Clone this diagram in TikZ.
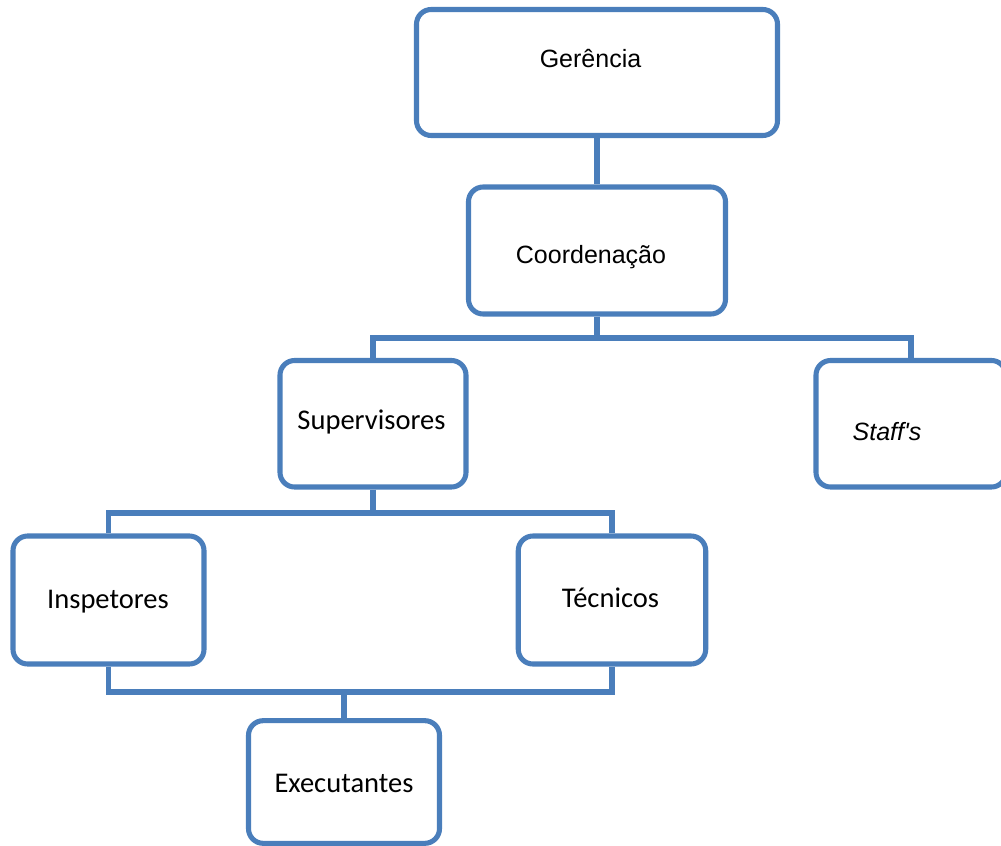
\documentclass[tikz,border=0pt]{standalone}
\usepackage{fontspec}
\setmainfont{Liberation Sans}
\newfontfamily\calibrifont{Carlito}
\definecolor{orgblue}{RGB}{74,126,187}
\begin{document}
\begin{tikzpicture}[x=0.75pt,y=-0.75pt,
  unit/.style={draw=orgblue, line width=3.8pt, rounded corners=11pt,
               fill=white, inner sep=0pt},
  link/.style={draw=orgblue, line width=3.8pt},
  arialtxt/.style={font=\fontsize{18.75}{22}\selectfont, anchor=base, inner sep=0pt},
  calitxt/.style={font=\calibrifont\fontsize{21.4}{25}\selectfont, anchor=base, inner sep=0pt}]
\useasboundingbox (0,0) rectangle (1001,846);

% boxes of the hierarchy
\node[unit, minimum width=270.75pt, minimum height=94.5pt]  (ger) at (597,72.5) {};
\node[unit, minimum width=192.75pt, minimum height=95.25pt] (coo) at (597,250.5) {};
\node[unit, minimum width=139.5pt,  minimum height=94.9pt]  (sup) at (373,423.75) {};
\node[unit, minimum width=142.5pt,  minimum height=94.9pt]  (stf) at (911,423.75) {};
\node[unit, minimum width=143.25pt, minimum height=96pt]    (ins) at (108.5,600) {};
\node[unit, minimum width=140.6pt,  minimum height=96pt]    (tec) at (612,600) {};
\node[unit, minimum width=143.25pt, minimum height=92pt]    (exe) at (344,782) {};

% labels
\node[arialtxt] (tger) at (590.5,67) {Gerência};
\node[arialtxt] (tcoo) at (591,263) {Coordenação};
\node[calitxt]  (tsup) at (371.5,429) {Supervisores};
\node[arialtxt, font=\itshape\fontsize{18.75}{22}\selectfont] (tstf) at (887,440) {Staff\textquotesingle s};
\node[calitxt]  (tins) at (108,608) {Inspetores};
\node[calitxt]  (ttec) at (610.5,607) {Técnicos};
\node[calitxt]  (texe) at (344,792) {Executantes};

% junction points of the buses
\coordinate (busA) at (597,338);
\coordinate (busB) at (373,513);
\coordinate (busC) at (344,692);

% connectors
\draw[link] (ger.south) -- (coo.north);
\draw[link] (coo.south) -- (busA);
\draw[link] (sup.north) -- (sup.north |- busA) -- (busA -| stf.north) -- (stf.north);
\draw[link] (sup.south) -- (busB);
\draw[link] (ins.north) -- (ins.north |- busB) -- (busB -| tec.north) -- (tec.north);
\draw[link] (ins.south) -- (ins.south |- busC) -- (busC -| tec.south) -- (tec.south);
\draw[link] (busC) -- (exe.north);
\end{tikzpicture}
\end{document}
